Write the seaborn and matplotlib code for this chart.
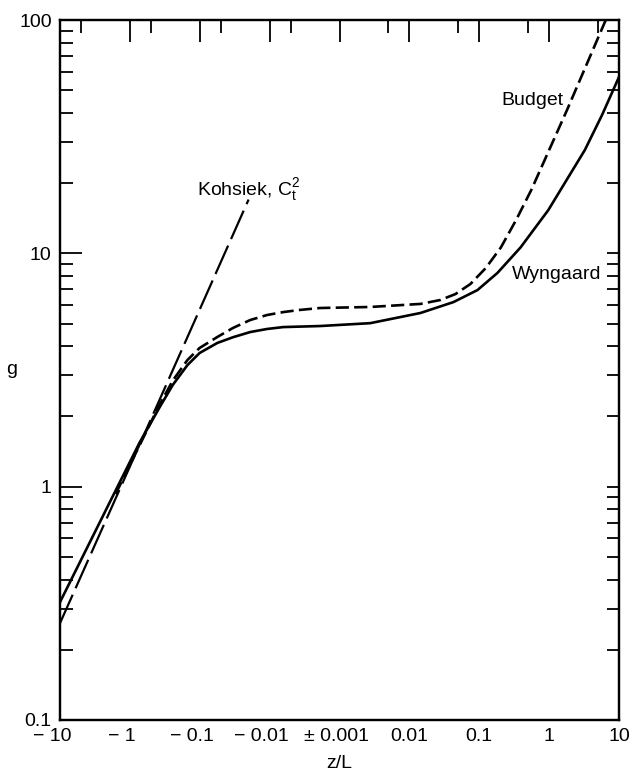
import numpy as np
import pandas as pd
import matplotlib
matplotlib.use("Agg")
import matplotlib.pyplot as plt
import seaborn as sns
from matplotlib.ticker import FixedLocator, FixedFormatter, NullFormatter, LogLocator

# ---- data (x = z/L, y = g) ----
wyngaard_zl = [-10, -1.58, -0.73, -0.375, -0.243, -0.15, -0.1005, -0.056, -0.0334,
               -0.0189, -0.0109, -0.0064, -0.0019, 0.00275, 0.0144, 0.0427, 0.0944,
               0.182, 0.39, 0.97, 3.24, 5.73, 10]
wyngaard_g = [0.32, 0.97, 1.54, 2.19, 2.73, 3.32, 3.74, 4.13, 4.37,
              4.60, 4.74, 4.83, 4.88, 5.02, 5.55, 6.18, 6.96,
              8.24, 10.6, 15.3, 27.7, 39.2, 57]

budget_zl = [-1.6, -0.375, -0.243, -0.15, -0.1005, -0.056, -0.0334, -0.0189, -0.0109,
             -0.0064, -0.0037, -0.0019, 0.00275, 0.0144, 0.0278, 0.0456, 0.0748,
             0.124, 0.204, 0.337, 0.556, 1.80, 6.46]
budget_g = [0.93, 2.25, 2.85, 3.49, 3.93, 4.38, 4.79, 5.18, 5.44,
            5.60, 5.72, 5.83, 5.89, 6.07, 6.31, 6.69, 7.39,
            8.65, 10.6, 13.9, 18.7, 41.1, 100]

kohsiek_zl = [-10, -1, -0.1, -0.02]
kohsiek_g = [0.26, 1.22, 5.75, 17.0]

x_major_ticks = [-10, -1, -0.1, -0.01, 0.001, 0.01, 0.1, 1, 10]
x_major_labels = ["\u2212 10   ", "\u2212 1   ", "\u2212 0.1   ", "\u2212 0.01   ",
                  "\u00b1 0.001 ", "0.01", "0.1", "1", "10"]
x_minor_ticks = [-5, -0.5, -0.05, -0.005, 0.005, 0.05, 0.5, 5]
y_major_ticks = [0.1, 1, 10, 100]
y_major_labels = ["0.1", "1", "10", "100"]

# ---- style ----
sns.set_theme(style="white")
plt.rcParams["font.family"] = ["Liberation Sans", "DejaVu Sans"]
plt.rcParams["mathtext.fontset"] = "custom"
plt.rcParams["mathtext.rm"] = "Liberation Sans"
plt.rcParams["mathtext.it"] = "Liberation Sans:italic"
plt.rcParams["mathtext.bf"] = "Liberation Sans:bold"
for k in ["text.color", "axes.labelcolor", "xtick.color", "ytick.color", "axes.edgecolor"]:
    plt.rcParams[k] = "black"


def fwd(x):
    x = np.asarray(x, dtype=float)
    return np.sign(x) * np.log10(np.maximum(np.abs(x), 1e-3) * 1e3)


def inv(u):
    u = np.asarray(u, dtype=float)
    return np.sign(u) * 10.0 ** np.abs(u) / 1e3


fig = plt.figure(figsize=(6.35, 7.76), dpi=100)
ax = fig.add_axes([0.0945, 0.0722, 0.8803, 0.902])

df_w = pd.DataFrame({"zL": wyngaard_zl, "g": wyngaard_g})
df_b = pd.DataFrame({"zL": budget_zl, "g": budget_g})
df_k = pd.DataFrame({"zL": kohsiek_zl, "g": kohsiek_g})

sns.lineplot(data=df_w, x="zL", y="g", ax=ax, color="black", lw=1.9,
             sort=False, estimator=None)
sns.lineplot(data=df_b, x="zL", y="g", ax=ax, color="black", lw=1.9,
             sort=False, estimator=None)
ax.lines[-1].set_dashes([5, 2])
sns.lineplot(data=df_k, x="zL", y="g", ax=ax, color="black", lw=1.6,
             sort=False, estimator=None)
ax.lines[-1].set_dashes([14, 3.2])

ax.set_xscale("function", functions=(fwd, inv))
ax.set_yscale("log")
ax.set_xlim(-10, 10)
ax.set_ylim(0.1, 100)

ax.xaxis.set_major_locator(FixedLocator(x_major_ticks))
ax.xaxis.set_major_formatter(FixedFormatter(x_major_labels))
ax.xaxis.set_minor_locator(FixedLocator(x_minor_ticks))
ax.xaxis.set_minor_formatter(NullFormatter())
ax.yaxis.set_major_locator(FixedLocator(y_major_ticks))
ax.yaxis.set_major_formatter(FixedFormatter(y_major_labels))
ax.yaxis.set_minor_locator(LogLocator(base=10, subs=np.arange(2, 10)))
ax.yaxis.set_minor_formatter(NullFormatter())

ax.tick_params(which="both", direction="in", top=True, right=False,
               labelsize=14, width=1.3, color="black")
ax.tick_params(which="major", length=16, pad=6)
ax.tick_params(which="minor", length=9.5)

for s in ax.spines.values():
    s.set_linewidth(1.6)
    s.set_color("black")

# right-hand ticks (all short)
ax2 = ax.twinx()
ax2.set_yscale("log")
ax2.set_ylim(0.1, 100)
ax2.yaxis.set_major_locator(FixedLocator(y_major_ticks))
ax2.yaxis.set_minor_locator(LogLocator(base=10, subs=np.arange(2, 10)))
ax2.yaxis.set_major_formatter(NullFormatter())
ax2.yaxis.set_minor_formatter(NullFormatter())
ax2.tick_params(which="both", direction="in", length=9, width=1.3, color="black",
                labelright=False)
for s in ax2.spines.values():
    s.set_linewidth(1.6)
    s.set_color("black")

ax.set_xlabel("z/L", fontsize=14)
ax.xaxis.set_label_coords(0.5, -0.05)
ax.set_ylabel("g", fontsize=14, rotation=0, ha="center", va="center")
ax.yaxis.set_label_coords(-0.086, 0.5)

ax.text(0.245, 0.75, r"Kohsiek, C$_{\rm t}^{\rm 2}$", transform=ax.transAxes,
        fontsize=14, ha="left", va="baseline")
ax.text(0.789, 0.879, "Budget", transform=ax.transAxes,
        fontsize=14, ha="left", va="baseline")
ax.text(0.809, 0.63, "Wyngaard", transform=ax.transAxes,
        fontsize=14, ha="left", va="baseline")

fig.savefig("out.png", dpi=100)
